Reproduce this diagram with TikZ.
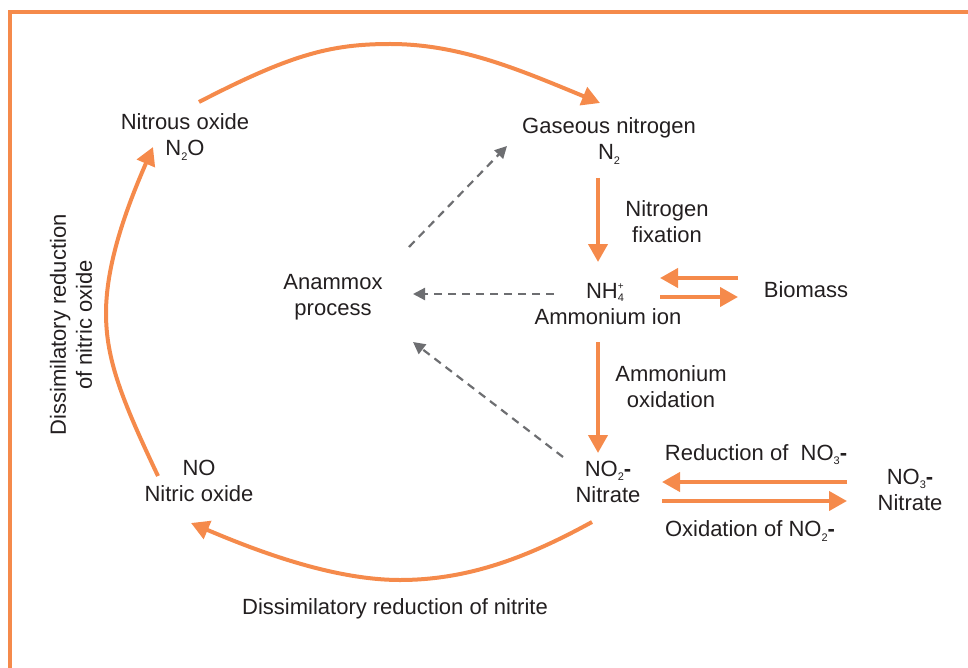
\documentclass[tikz,border=0pt]{standalone}
\usepackage{fontspec}
\setmainfont{Liberation Sans}
\usetikzlibrary{arrows.meta}
\definecolor{orng}{RGB}{245,138,75}
\definecolor{dgray}{RGB}{109,110,113}
\definecolor{txt}{RGB}{35,31,32}
\newcommand\mysb[1]{\raisebox{-0.35ex}{\fontsize{11}{11}\selectfont #1}}
\newcommand\mystk[2]{\rlap{\raisebox{0.8ex}{\fontsize{10}{10}\selectfont #1}}\raisebox{-0.3ex}{\fontsize{11}{11}\selectfont #2}}
\tikzset{
  lbl/.style={text=txt, align=center, font=\fontsize{22}{26}\selectfont, inner sep=0pt},
  oarr/.style={draw=orng, line width=4pt, -{Triangle[length=18pt,width=19pt]}, fill=none},
  garr/.style={draw=dgray, line width=2.2pt, dash pattern=on 8pt off 6pt, -{Triangle[length=12pt,width=12pt]}},
  frame/.style={draw=orng, line width=4pt}
}
\begin{document}
\begin{tikzpicture}[x=1pt,y=-1pt]
\useasboundingbox (0,0) rectangle (968,668);
\draw[frame] (10,672) -- (10,12) -- (972,12);

% nodes
\node[lbl] (n2o) at (185,137) {Nitrous oxide\\N\mysb{2}O};
\node[lbl] (n2) at (609,141) {Gaseous nitrogen\\N\mysb{2}};
\node[lbl] (fix) at (667,222) {Nitrogen\\fixation};
\node[lbl] (nh4) at (608,304) {NH\mystk{+}{4}\hphantom{\mysb{4}}\\Ammonium ion};
\node[lbl] (bio) at (806,290) {Biomass};
\node[lbl] (ana) at (333,297) {Anammox\\process};
\node[lbl] (aox) at (671,387) {Ammonium\\oxidation};
\node[lbl] (no2) at (608,482) {NO\mysb{2}\textbf{-}\\Nitrate};
\node[lbl] (red) at (756,455) {Reduction of\ \ NO\mysb{3}\textbf{-}};
\node[lbl] (no3) at (910,490) {NO\mysb{3}\textbf{-}\\Nitrate};
\node[lbl] (oxi) at (750,531) {Oxidation of NO\mysb{2}\textbf{-}};
\node[lbl] (no) at (199,481) {NO\\Nitric oxide};
\node[lbl] (dnit) at (395,609) {Dissimilatory reduction of nitrite};
\node[lbl, rotate=90] (dno) at (71,325) {Dissimilatory reduction\\of nitric oxide};

% connector end points
\coordinate (a1) at (199,102); \coordinate (a1m) at (390,44); \coordinate (a2) at (600,103);
\coordinate (b1) at (158,476); \coordinate (b1m) at (106,313); \coordinate (b2) at (153,147);
\coordinate (c1) at (592,522); \coordinate (c1m) at (400,580); \coordinate (c2) at (191,523);
\coordinate (v1s) at (598,178); \coordinate (v1e) at (598,262);
\coordinate (v2s) at (598,342); \coordinate (v2e) at (598,453);
\coordinate (h1s) at (738,278); \coordinate (h1e) at (660,278);
\coordinate (h2s) at (660,297); \coordinate (h2e) at (738,297);
\coordinate (h3s) at (847,482); \coordinate (h3e) at (662,482);
\coordinate (h4s) at (662,501); \coordinate (h4e) at (847,501);
\coordinate (d1s) at (409,247); \coordinate (d1e) at (507,146);
\coordinate (d2s) at (554,294); \coordinate (d2e) at (413,294);
\coordinate (d3s) at (563,457); \coordinate (d3e) at (413,342);

% orange connectors
\draw[oarr] (a1) .. controls (290,55) and (330,44) .. (a1m) .. controls (460,44) and (520,70) .. (a2);
\draw[oarr] (b1) .. controls (122,400) and (106,360) .. (b1m) .. controls (106,260) and (130,200) .. (b2);
\draw[oarr] (c1) .. controls (530,556) and (470,580) .. (c1m) .. controls (330,580) and (250,548) .. (c2);
\draw[oarr] (v1s) -- (v1e);
\draw[oarr] (v2s) -- (v2e);
\draw[oarr] (h1s) -- (h1e);
\draw[oarr] (h2s) -- (h2e);
\draw[oarr] (h3s) -- (h3e);
\draw[oarr] (h4s) -- (h4e);

% gray dashed connectors
\draw[garr] (d1s) -- (d1e);
\draw[garr] (d2s) -- (d2e);
\draw[garr] (d3s) -- (d3e);
\end{tikzpicture}
\end{document}
